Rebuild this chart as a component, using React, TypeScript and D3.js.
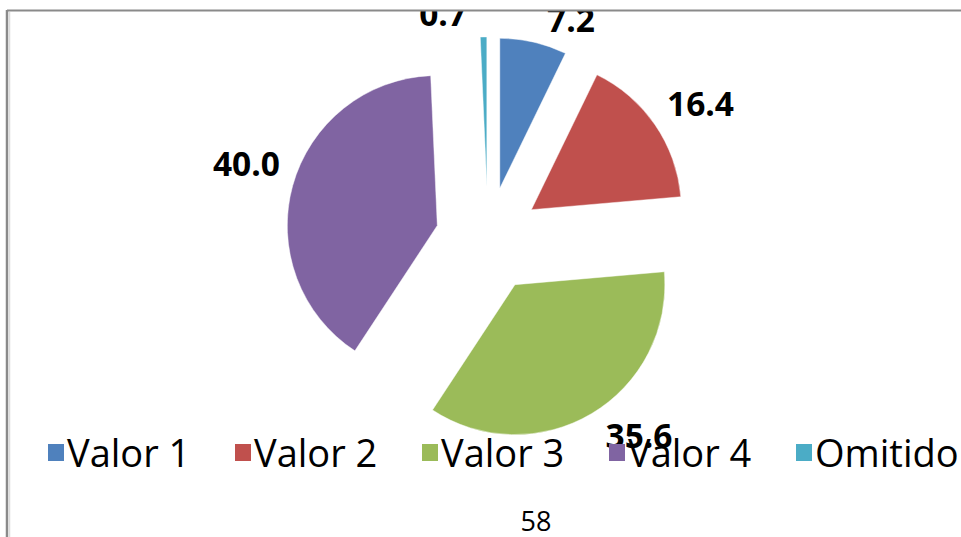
import React from "react";
import * as d3 from "d3";

// ---- data ----
const categories = ["Valor 1", "Valor 2", "Valor 3", "Valor 4", "Omitido"];
const values = [7.2, 16.4, 35.6, 40.0, 0.7];
const valueLabels = ["7.2", "16.4", "35.6", "40.0", "0.7"];
const pageNumber = "58";

// ---- style / layout ----
const COLORS = ["#4F81BD", "#C0504D", "#9BBB59", "#8064A2", "#4BACC6"];
const W = 961;
const H = 537;
const CX = 488;
const CY = 239.5;
const R = 150;
const EXPLODE = 52.6;
// label placement (polar from pie centre): distance and angular nudge in degrees
const LABEL_DIST = [234, 252, 248, 253, 230];
const LABEL_NUDGE = [7.8, 2.0, -6.7, 1.9, -10];

const LEGEND_X0 = 48;
const LEGEND_STEP = 187;
const LEGEND_Y = 467;

export default function App() {
  const pie = d3
    .pie<number>()
    .sort(null)
    .value((d) => d)
    .startAngle(0)
    .endAngle(2 * Math.PI);
  const arcs = pie(values);
  const arcGen = d3.arc<d3.PieArcDatum<number>>().innerRadius(0).outerRadius(R);

  return (
    <svg
      width={W}
      height={H}
      style={{ position: "absolute", left: 0, top: 0, background: "#fff" }}
    >
      <defs>
        <clipPath id="plot">
          <rect x={8} y={11} width={W} height={H} />
        </clipPath>
      </defs>
      <g clipPath="url(#plot)">
        {arcs.map((a, i) => {
          const mid = (a.startAngle + a.endAngle) / 2;
          const ox = CX + EXPLODE * Math.sin(mid);
          const oy = CY - EXPLODE * Math.cos(mid);
          return (
            <path
              key={categories[i]}
              d={arcGen(a) || ""}
              transform={`translate(${ox},${oy})`}
              fill={COLORS[i]}
              stroke="rgba(255,255,255,0.45)"
              strokeWidth={1}
            />
          );
        })}
        {arcs.map((a, i) => {
          const mid = (a.startAngle + a.endAngle) / 2 + (LABEL_NUDGE[i] * Math.PI) / 180;
          const lx = CX + LABEL_DIST[i] * Math.sin(mid);
          const ly = CY - LABEL_DIST[i] * Math.cos(mid);
          return (
            <text
              key={"l" + i}
              x={lx}
              y={ly}
              dy="0.35em"
              textAnchor="middle"
              fontFamily="'Open Sans', sans-serif"
              fontWeight="bold"
              fontSize={33.5}
              fill="#000"
            >
              {valueLabels[i]}
            </text>
          );
        })}
        {categories.map((c, i) => {
          const x = LEGEND_X0 + i * LEGEND_STEP;
          return (
            <g key={"lg" + i}>
              <rect x={x} y={444} width={16} height={17} fill={COLORS[i]} />
              <text
                x={x + 19}
                y={LEGEND_Y}
                fontFamily="'Open Sans', sans-serif"
                fontSize={38}
                fill="#000"
              >
                {c}
              </text>
            </g>
          );
        })}
      </g>
      <line x1={7} y1={10.5} x2={W} y2={10.5} stroke="#8a8a8a" strokeWidth={2} />
      <line x1={7} y1={10} x2={7} y2={H} stroke="#8a8a8a" strokeWidth={2.5} />
      <line x1={9.5} y1={12} x2={9.5} y2={H} stroke="#dcdcdc" strokeWidth={1.5} />
      <text
        x={536}
        y={531}
        textAnchor="middle"
        fontFamily="'Open Sans', sans-serif"
        fontSize={27}
        fill="#000"
      >
        {pageNumber}
      </text>
    </svg>
  );
}
